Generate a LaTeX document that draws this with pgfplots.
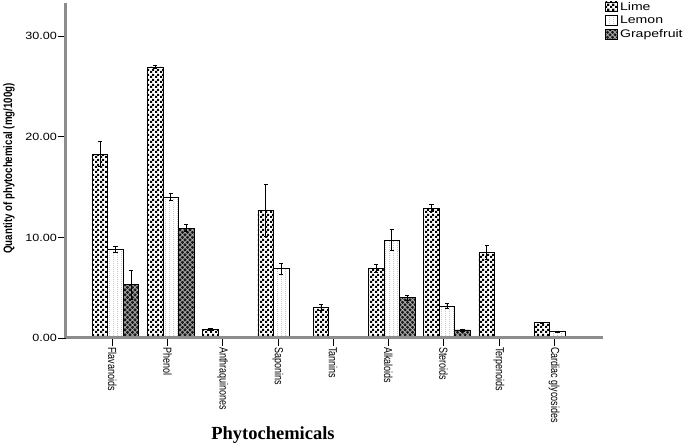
\documentclass[border=0pt]{standalone}
\usepackage{pgfplots}
\pgfplotsset{compat=1.18}
\usepackage{fontspec}
\setmainfont{Liberation Sans}
\newfontfamily\serifbold{Liberation Serif}
\usetikzlibrary{patterns}

\pgfdeclarepatternformonly{chk}{\pgfqpoint{0pt}{0pt}}{\pgfqpoint{5pt}{5pt}}{\pgfqpoint{5pt}{5pt}}{%
  \pgfpathrectangle{\pgfqpoint{0pt}{0pt}}{\pgfqpoint{2.5pt}{2.5pt}}%
  \pgfpathrectangle{\pgfqpoint{2.5pt}{2.5pt}}{\pgfqpoint{2.5pt}{2.5pt}}%
  \pgfusepath{fill}}
\pgfdeclarepatternformonly{vdots}{\pgfqpoint{0pt}{0pt}}{\pgfqpoint{3.5pt}{2pt}}{\pgfqpoint{3.5pt}{2pt}}{%
  \pgfpathrectangle{\pgfqpoint{0pt}{0pt}}{\pgfqpoint{0.7pt}{1pt}}%
  \pgfusepath{fill}}
\pgfdeclarepatternformonly{xhatch}{\pgfqpoint{-1pt}{-1pt}}{\pgfqpoint{6pt}{6pt}}{\pgfqpoint{5pt}{5pt}}{%
  \pgfsetlinewidth{0.8pt}%
  \pgfpathmoveto{\pgfqpoint{-0.1pt}{-0.1pt}}\pgfpathlineto{\pgfqpoint{5.1pt}{5.1pt}}%
  \pgfpathmoveto{\pgfqpoint{-0.1pt}{5.1pt}}\pgfpathlineto{\pgfqpoint{5.1pt}{-0.1pt}}%
  \pgfusepath{stroke}}
\newcommand\xl[1]{\scalebox{1}[1.3]{#1}}

\begin{document}
\begin{tikzpicture}
\begin{axis}[
  scale only axis,
  width=537pt, height=335pt,
  xmin=-0.896, xmax=8.824,
  ymin=0, ymax=33.3,
  axis x line=bottom, axis y line=left,
  axis line style={-, draw=gray!90, line width=3pt},
  axis on top,
  ybar=0pt, bar width=15.5pt,
  tick align=outside,
  major tick length=8pt,
  tick style={black, line width=0.8pt},
  ytick={0,10,20,30},
  yticklabel={\scalebox{1.2}[1]{\pgfmathprintnumber[fixed,fixed zerofill,precision=2,assume math mode=true]{\tick}}},
  yticklabel style={font=\fontsize{10.5}{12}\selectfont, inner sep=1pt},
  xtick={-0.06,0.94,1.94,2.94,3.94,4.94,5.94,6.94,7.94},
  xticklabels={\xl{Flavanoids},\xl{Phenol},\xl{Anthraquinones},\xl{Saponins},\xl{Tannins},\xl{Alkaloids},\xl{Steroids},\xl{Terpenoids},\xl{Cardiac glycosides}},
  xticklabel style={font=\fontsize{9}{11}\selectfont, rotate=-90, anchor=west, inner sep=1pt},
  ylabel={\scalebox{1}[1.25]{\bfseries Quantity of phytochemical (mg/100g)}},
  ylabel style={font=\fontsize{9.7}{11}\selectfont, at={(axis description cs:-0.106,0.506)}, anchor=center, rotate=0},
  error bars/y dir=both, error bars/y explicit,
  error bars/error bar style={black, line width=0.8pt},
  error bars/error mark options={rotate=90, mark size=2.2pt, black, line width=0.8pt},
  every axis plot post/.append style={legend image code/.code={\draw[##1] (0pt,-4.5pt) rectangle (12pt,5pt);}},
  legend style={at={(axis description cs:1.004,1.009)}, anchor=north west, draw=none, fill=none,
    font=\fontsize{11}{13}\selectfont, inner sep=0pt, row sep=0.5pt, cells={anchor=west}},
]
\coordinate (O) at (axis description cs:0,0);
\addplot[draw=black, line width=0.7pt, fill=white, postaction={pattern=chk, pattern color=black}]
  coordinates {(0,18.3) +- (0,1.2) (1,26.95) +- (0,0.15) (2,0.9) +- (0,0.1) (3,12.7) +- (0,2.6)
  (4,3.0) +- (0,0.3) (5,6.9) +- (0,0.4) (6,12.9) +- (0,0.35) (7,8.5) +- (0,0.7) (8,1.55) +- (0,0.05)};
\addlegendentry{\scalebox{1.28}[1]{Lime}}
\addplot[draw=black, line width=0.7pt, fill=white, postaction={pattern=vdots, pattern color=gray}]
  coordinates {(0,8.85) +- (0,0.3) (1,14.0) +- (0,0.35) (3,6.9) +- (0,0.55)
  (5,9.75) +- (0,1.0) (6,3.18) +- (0,0.27) (8,0.65) +- (0,0.05)};
\addlegendentry{\scalebox{1.28}[1]{Lemon}}
\addplot[draw=black, line width=0.7pt, fill=black!90, postaction={pattern=xhatch, pattern color=gray!60}]
  coordinates {(0,5.3) +- (0,1.45) (1,10.9) +- (0,0.35) (5,4.0) +- (0,0.25) (6,0.8) +- (0,0.1) (8,0.05) +- (0,0)};
\addlegendentry{\scalebox{1.28}[1]{Grapefruit}}
\end{axis}
\node[font=\fontsize{18.5}{20}\selectfont\serifbold\bfseries, anchor=base] at ([shift={(207pt,-102pt)}]O) {Phytochemicals};
\path[use as bounding box] ([shift={(-66pt,-107pt)}]O) rectangle ++(685pt,445pt);
\end{tikzpicture}
\end{document}
